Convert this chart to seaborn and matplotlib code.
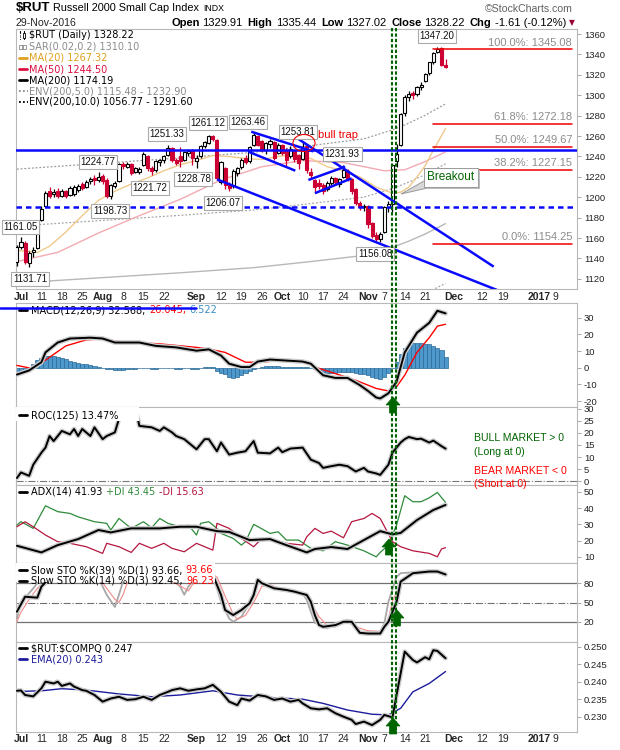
import numpy as np
import pandas as pd
import matplotlib
matplotlib.use("Agg")
import matplotlib.pyplot as plt
import seaborn as sns
from matplotlib.lines import Line2D
from matplotlib.patches import Rectangle, Polygon, Ellipse

# trading days from Jun 30 2016, exchange holidays removed
holidays = pd.to_datetime(["2016-07-04", "2016-09-05", "2016-11-24", "2016-12-26", "2017-01-02"])
days = pd.bdate_range("2016-06-30", "2017-01-13")
days = days[~days.isin(holidays)]

# daily candles Jun 30 .. Nov 29 (one value per trading day)
opens = [1137, 1151, 1155, 1136, 1146, 1150, 1178, 1191, 1206, 1203, 1206, 1201, 1206, 1202, 1203, 1207, 1213, 1210,
         1216, 1219, 1217, 1221, 1217, 1201, 1211, 1216, 1233, 1230, 1233, 1225, 1225, 1232, 1240, 1229, 1227, 1235,
         1237, 1241, 1248, 1237, 1240, 1237, 1243, 1246, 1236, 1240, 1250, 1253, 1260, 1256, 1215, 1229, 1212, 1211,
         1224, 1230, 1239, 1236, 1251, 1260, 1255, 1246, 1252, 1254, 1243, 1251, 1245, 1240, 1245, 1241, 1238, 1250,
         1225, 1217, 1214, 1212, 1208, 1214, 1219, 1213, 1220, 1226, 1218, 1208, 1194, 1190, 1191, 1175, 1163, 1159,
         1166, 1190, 1193, 1236, 1251, 1283, 1298, 1302, 1301, 1308, 1314, 1322, 1333, 1342, 1346, 1329.91]
highs = [1153, 1161.05, 1157, 1147, 1151, 1177, 1191, 1206, 1210, 1208, 1209, 1208, 1207, 1211, 1212, 1213, 1215, 1217,
         1220, 1222, 1224.77, 1223, 1219, 1213, 1216, 1234, 1235, 1235, 1234, 1230, 1230, 1244, 1241, 1231, 1237, 1238,
         1241, 1251.33, 1249, 1239, 1249, 1245, 1247, 1247, 1241, 1251, 1255, 1261.12, 1261, 1257, 1236, 1230, 1215,
         1228, 1230, 1239, 1241, 1250, 1263.46, 1261, 1256, 1254, 1257, 1255, 1253, 1252, 1248, 1250, 1246, 1242,
         1253.81, 1251, 1229, 1218, 1218, 1214, 1216, 1221, 1220, 1219, 1231.93, 1228, 1219, 1209, 1196, 1193, 1192,
         1176, 1166, 1166, 1191, 1196, 1233, 1252, 1283, 1300, 1304, 1304, 1309, 1313, 1322, 1333, 1342, 1347.2, 1347,
         1335.44]
lows = [1133, 1149, 1135, 1131.71, 1141, 1149, 1177, 1190, 1199, 1200, 1199, 1200, 1199, 1201, 1201, 1205, 1207, 1209,
        1213, 1212, 1215, 1213, 1199, 1198.73, 1209, 1215, 1228, 1229, 1222, 1224, 1223, 1231, 1226, 1221.72, 1225,
        1231, 1234, 1240, 1235, 1232, 1230, 1236, 1240, 1232, 1228.78, 1239, 1248, 1252, 1255, 1218, 1213, 1208,
        1206.07, 1209, 1221, 1228, 1233, 1234, 1250, 1250, 1244, 1242, 1248, 1237, 1242, 1241, 1231, 1239, 1235, 1228,
        1237, 1224, 1219, 1205, 1208, 1203, 1206, 1212, 1212, 1210, 1219, 1216, 1203, 1192, 1188, 1187, 1170, 1160,
        1157, 1156.08, 1165, 1186, 1186, 1230, 1250, 1280, 1294, 1296, 1299, 1305, 1313, 1320, 1331, 1341, 1329,
        1327.02]
closes = [1151, 1156, 1137, 1145, 1148, 1176, 1189, 1204, 1201, 1205, 1201, 1206, 1201, 1209, 1210, 1211, 1209, 1215,
          1218, 1217, 1220, 1216, 1201, 1212, 1214, 1233, 1231, 1233, 1224, 1229, 1228, 1242, 1229, 1226, 1236, 1237,
          1240, 1248, 1237, 1234, 1236, 1244, 1245, 1239, 1239, 1250, 1254, 1260, 1257, 1219, 1235, 1212, 1209, 1226,
          1229, 1237, 1235, 1249, 1261, 1251, 1246, 1253, 1255, 1239, 1251, 1243, 1237, 1247, 1238, 1234, 1248, 1227,
          1222, 1210, 1211, 1206, 1214, 1219, 1215, 1218, 1227, 1218, 1206, 1194, 1190, 1191, 1174, 1162, 1159, 1164,
          1190, 1193, 1232, 1242, 1282, 1298, 1301, 1300, 1308, 1310, 1321, 1333, 1341, 1345, 1330, 1328.22]

# moving averages (trading-day number, value)
ma20_day = [0, 3, 5, 8, 12, 16, 20, 24, 28, 32, 36, 40, 44, 48, 52, 56, 60, 64, 68, 72, 76, 80, 84, 88, 92, 94, 96, 98, 100, 102, 105]
ma20_val = [1148, 1147, 1146, 1152, 1166, 1182, 1197, 1206, 1213, 1219, 1226, 1232, 1236, 1241, 1240, 1238, 1237,
            1240, 1242, 1238, 1230, 1226, 1220, 1210, 1204, 1205, 1210, 1220, 1231, 1246, 1267.32]
ma50_day = [0, 10, 20, 30, 40, 50, 60, 70, 80, 90, 95, 100, 105]
ma50_val = [1137, 1146, 1165, 1182, 1198, 1217, 1230, 1236, 1234, 1226, 1227, 1235, 1244.5]
ma200_day = [0, 20, 40, 58, 72, 85, 92, 96, 100, 105]
ma200_val = [1116, 1121, 1126, 1131, 1137, 1143, 1151, 1157, 1164, 1174.19]

# MACD(12,26,9)
macd_day = [0, 3, 6, 7, 10, 13, 18, 21, 24, 27, 30, 34, 39, 44, 47, 50, 52, 55, 57, 59, 62, 66, 70, 72, 75, 78, 81,
            84, 86, 88, 89, 91, 93, 95, 98, 101, 103, 105]
macd_val = [-4.1, -1.6, 3.3, 9.2, 15.1, 17.5, 18, 17.5, 15.1, 15.1, 15.1, 13.1, 12.2, 10.2, 11, 7.3, 2.4, 0.4, 0.4,
            3.7, 4.9, 4.3, 3.7, 2.4, -4.5, -6.1, -6.1, -10.4, -13.9, -17.8, -18.4, -15.3, -8.4, 9.2, 21, 26.9, 34.1,
            32.57]
signal_day = [0, 4, 8, 12, 17, 21, 25, 35, 44, 47, 51, 56, 60, 64, 71, 73, 78, 83, 88, 91, 93, 95, 98, 101, 103, 105]
signal_val = [1.4, -0.6, 6.3, 13.1, 16.7, 17.3, 15.7, 14.3, 12.2, 11.2, 9.2, 3.3, 3.3, 4.3, 3.3, 0.4, -3.5, -7.5,
              -12.4, -13.9, -11.4, -4.5, 9.2, 18, 24.9, 26.05]
hist_val = [-4, -3, -1.5, 0.5, 2.5, 4.5, 6, 7, 7, 7, 6.5, 6, 5, 4, 3.5, 3, 2.5, 2, 1.5, 1, 0.5, 0, -0.5, -1, -1.5,
            -1.5, -1.2, -1, -0.5, -0.5, -0.3, 0, -0.3, -0.5, -0.5, -0.3, 0, 0, -0.3, -0.5, -0.5, -0.3, -0.3, -0.5,
            -0.5, 0, 0.3, 0.5, 0.3, -2, -3, -4, -5.5, -6, -5.5, -4.5, -3, -2, -1, 0, 0.5, 0.8, 1, 1, 0.8, 0.5, 0.5,
            0.5, 0.5, 0.3, 0.3, 0.2, 0, -0.5, -1.5, -2.5, -3, -3, -3, -2.8, -2.5, -2.5, -2.8, -3, -3.5, -4, -4.5,
            -5.5, -6, -6.5, -5.5, -3, 0, 3.5, 8, 12, 14.5, 15, 15, 15, 14.5, 14, 13, 12, 10.5, 6.52]

# ROC(125)
roc_day = [0, 1, 3, 4, 6, 7, 8, 9, 11, 13, 14, 15, 16, 18, 19, 21, 22, 24, 25, 26, 28, 29, 30, 33, 35, 36, 38, 39,
           41, 44, 46, 47, 49, 50, 52, 54, 56, 58, 59, 62, 64, 65, 67, 70, 72, 74, 75, 77, 79, 81, 83, 85, 86, 88,
           89, 91, 92, 94, 95, 96, 98, 99, 101, 102, 104, 105]
roc_val = [1.3, 3.6, 2.2, 6.8, 11.8, 13.9, 18.7, 16.6, 20.8, 19.4, 21.6, 18.7, 21.6, 18.7, 22.3, 17.4, 18.7, 20.2,
           25.8, 33, 33, 30.5, 22.9, 22.3, 20.8, 22.3, 20.2, 18.7, 17.4, 13.2, 17.4, 17.4, 12.4, 16, 11, 11.8, 12.4,
           16.6, 11.8, 11.5, 13.9, 12, 13.5, 13.9, 8.9, 7.5, 5.5, 6.2, 6.8, 6.2, 4, 5.5, 4, 3.2, 2.6, 6.8, 11.8, 16,
           17.4, 18.3, 17.4, 17.6, 16, 16.8, 14.5, 13.47]

# ADX(14) with +DI / -DI
adx_day = [0, 6, 10, 15, 20, 23, 28, 35, 40, 44, 49, 52, 57, 62, 66, 71, 73, 77, 81, 85, 89, 92, 94, 98, 102, 105]
adx_val = [16.8, 12.7, 17.2, 20.9, 26.5, 25, 27.5, 27.5, 28.5, 28.5, 25.8, 25.3, 20.3, 20.9, 17.2, 12.7, 14.8, 16,
           14.8, 20.3, 25.8, 23.8, 24.7, 32.6, 38.8, 41.93]
pdi_day = [0, 1, 4, 7, 10, 13, 15, 19, 22, 23, 25, 28, 31, 33, 35, 37, 40, 42, 44, 45, 47, 49, 50, 53, 55, 56, 58,
           62, 64, 66, 69, 72, 75, 78, 81, 85, 88, 89, 91, 93, 95, 97, 99, 101, 103, 105]
pdi_val = [29.5, 31.6, 27.5, 41.4, 37.8, 36.7, 34.6, 31.6, 30.6, 26.5, 33.6, 27.5, 31.6, 27.9, 33.6, 30.6, 28.5,
           29.5, 23.4, 30.6, 31.6, 27.5, 24.4, 21.3, 17.2, 19.3, 30, 24.4, 25.4, 20.3, 20.3, 15.2, 13.7, 19.3, 17.2,
           13.7, 10, 12.7, 17.2, 29.5, 47.6, 43.9, 43.9, 46.3, 49.6, 43.45]
mdi_day = [0, 2, 4, 7, 10, 13, 17, 21, 22, 25, 28, 30, 33, 36, 38, 41, 44, 46, 48, 49, 52, 55, 58, 60, 63, 66, 70,
           71, 73, 75, 77, 80, 82, 85, 87, 89, 92, 94, 97, 101, 103, 104, 105]
mdi_val = [28.5, 31.6, 28.5, 23.4, 19.3, 18.3, 16.2, 12.1, 18.3, 16.2, 12.7, 18.3, 15.2, 18.3, 15.2, 13.1, 18.3,
           16.2, 14.1, 30.6, 27.5, 21.3, 16.2, 21.3, 20.3, 18.3, 17.2, 22.3, 27.5, 24.4, 25.8, 21.7, 31.6, 33.6, 36.7,
           33.6, 19.3, 16.2, 13.7, 12.1, 10, 14.8, 15.63]

# slow stochastics
sto39_day = [0, 2, 5, 6, 8, 12, 18, 22, 26, 32, 38, 42, 46, 48, 50, 51, 53, 55, 57, 58, 59, 60, 63, 66, 68, 71, 72,
             73, 74, 75, 78, 80, 82, 84, 86, 89, 90, 91, 93, 94, 97, 101, 103, 105]
sto39_val = [35.6, 59, 57.5, 74.7, 88, 92, 95, 88, 93, 94, 93, 90, 95, 93, 61.7, 38.3, 30.5, 38.3, 48.7, 61.7, 85.2,
             80, 72.1, 69.5, 66.9, 61.7, 51.2, 30, 15, 12.2, 14.8, 20, 20, 2.8, 1.7, 1.7, 12.2, 20, 51, 82.5, 95.6,
             98.2, 98.2, 93.66]
sto14_day = [0, 1, 4, 5, 7, 12, 20, 21, 22, 24, 25, 26, 28, 33, 35, 39, 40, 41, 42, 44, 48, 50, 52, 53, 55, 57, 59,
             61, 64, 67, 70, 71, 73, 74, 76, 78, 81, 83, 84, 87, 89, 90, 91, 93, 94, 97, 101, 103, 105]
sto14_val = [25.3, 50, 72, 80, 92, 95, 88, 75, 62, 43, 62, 83, 92, 85, 92, 80, 75, 62, 75, 90, 93, 51, 25, 20, 28,
             49, 82, 75, 72, 67, 64, 54, 18, 17.5, 9.7, 17.5, 23, 9.7, 4.5, 4.5, 4.5, 17.5, 51, 90, 95.6, 97, 97,
             97.5, 92.45]
sto14d_day = [0, 1, 3, 5, 7, 12, 20, 22, 24, 25, 26, 27, 29, 34, 36, 40, 42, 43, 45, 49, 51, 53, 54, 56, 58, 60, 62,
              65, 68, 71, 72, 74, 76, 78, 80, 82, 84, 86, 89, 90, 91, 92, 94, 96, 100, 103, 105]
sto14d_val = [20, 35, 55, 72, 85, 94, 90, 72, 55, 50, 62, 80, 90, 86, 90, 76, 68, 78, 88, 90, 60, 32, 24, 30, 50,
              75, 78, 70, 66, 60, 50, 28, 14, 12, 18, 17, 10, 6, 5, 10, 25, 52, 80, 94, 97, 97, 96.23]

# $RUT:$COMPQ ratio and its EMA(20)
ratio_day = [0, 1, 2, 4, 6, 7, 9, 10, 11, 13, 14, 16, 17, 19, 21, 23, 25, 27, 29, 31, 33, 35, 37, 38, 40, 42, 44,
             46, 48, 50, 52, 54, 55, 57, 59, 61, 63, 65, 67, 69, 70, 72, 74, 76, 78, 80, 82, 83, 85, 87, 89, 90, 92,
             93, 95, 97, 98, 100, 101, 102, 103, 105]
ratio_val = [0.2374, 0.2375, 0.2362, 0.2358, 0.2381, 0.2400, 0.2395, 0.2400, 0.2388, 0.2395, 0.2386, 0.2376,
             0.2374, 0.2362, 0.2343, 0.2352, 0.2357, 0.2348, 0.2350, 0.2357, 0.2348, 0.2362, 0.2371, 0.2376,
             0.2381, 0.2374, 0.2378, 0.2381, 0.2391, 0.2371, 0.2343, 0.2333, 0.2352, 0.2346, 0.2362, 0.2358,
             0.2348, 0.2352, 0.2343, 0.2348, 0.2338, 0.2324, 0.2321, 0.2324, 0.2310, 0.2300, 0.2291, 0.2279,
             0.2286, 0.2276, 0.2291, 0.2305, 0.2298, 0.2362, 0.2486, 0.2462, 0.2455, 0.2470, 0.2464, 0.2490,
             0.2488, 0.2467]
ema_day = [0, 6, 11, 17, 25, 33, 40, 48, 54, 62, 70, 75, 81, 87, 91, 94, 97, 101, 105]
ema_val = [0.2372, 0.2374, 0.2380, 0.2376, 0.2365, 0.2357, 0.2362, 0.2374, 0.2362, 0.2355, 0.2350, 0.2338,
           0.2319, 0.2307, 0.2305, 0.2324, 0.2371, 0.2395, 0.2429]

# drawn annotations: fib levels, trend lines, price tags
fib_levels = [1345.08, 1272.18, 1249.67, 1227.15, 1154.25]
fib_text = ["100.0%: 1345.08", "61.8%: 1272.18", "50.0%: 1249.67", "38.2%: 1227.15", "0.0%: 1154.25"]
trendlines = [(57.4, 1264.3, 72.6, 1245.0), (56.7, 1244.7, 68.2, 1226.1), (49.0, 1217.6, 118.0, 1108.5),
              (69.0, 1257.0, 116.8, 1132.0), (71.4, 1217.0, 80.4, 1230.0), (73.0, 1204.0, 82.0, 1218.6)]
price_tags = [("1131.71", 3.2, 1119.9), ("1161.05", 0.9, 1170.9), ("1224.77", 19.9, 1234.6),
              ("1198.73", 22.8, 1186.6), ("1251.33", 36.8, 1262.0), ("1221.72", 32.6, 1209.1),
              ("1261.12", 46.8, 1272.8), ("1228.78", 43.2, 1217.9), ("1263.46", 56.6, 1273.8),
              ("1206.07", 50.5, 1194.4), ("1253.81", 68.9, 1264.0), ("1231.93", 79.7, 1242.5),
              ("1156.08", 87.8, 1144.4), ("1347.20", 102.9, 1358.0)]

tick_dates = ["2016-07-01", "2016-07-11", "2016-07-18", "2016-07-25", "2016-08-01", "2016-08-08", "2016-08-15",
              "2016-08-22", "2016-09-01", "2016-09-12", "2016-09-19", "2016-09-26", "2016-10-03", "2016-10-10",
              "2016-10-17", "2016-10-24", "2016-11-01", "2016-11-07", "2016-11-14", "2016-11-21", "2016-12-01",
              "2016-12-12", "2016-12-19", "2017-01-03", "2017-01-09"]
tick_text = ["Jul", "11", "18", "25", "Aug", "8", "15", "22", "Sep", "12", "19", "26", "Oct", "10", "17", "24",
             "Nov", "7", "14", "21", "Dec", "12", "19", "2017", "9"]
tick_pos = [days.get_loc(pd.Timestamp(d)) for d in tick_dates]

sns.set_style("white")
plt.rcParams["font.family"] = ["DejaVu Sans"]
plt.rcParams["text.parse_math"] = False

W, H = 620, 750
fig = plt.figure(figsize=(6.2, 7.5), dpi=100)
fig.patch.set_facecolor("white")
rend = fig.canvas.get_renderer()

XL = (-0.22, 137.2)


def px_axes(x0, y0, x1, y1):
    return fig.add_axes([x0 / W, 1 - y1 / H, (x1 - x0) / W, (y1 - y0) / H])


def style(ax, ylim, yticks, fmt="%g"):
    ax.set_xlim(*XL)
    ax.set_ylim(*ylim)
    ax.set_yticks(yticks)
    ax.set_yticklabels([fmt % v for v in yticks])
    ax.yaxis.tick_right()
    ax.tick_params(axis="y", length=3, width=0.6, color="#999999", labelsize=6.8, pad=2,
                   labelfontfamily="Liberation Sans", labelcolor="#222222")
    ax.tick_params(axis="x", length=0, labelbottom=False)
    for s in ax.spines.values():
        s.set_color("#b8b8b8")
        s.set_linewidth(0.8)
    ax.set_facecolor("white")


def line(ax, xs, ys, color, lw=1.0, halo=False, z=3):
    if halo:
        ax.plot(xs, ys, color="#cccccc", lw=lw + 2.0, zorder=z - 0.5, solid_capstyle="round")
    sns.lineplot(x=xs, y=ys, ax=ax, color=color, linewidth=lw, estimator=None, sort=False,
                 legend=False, zorder=z)
    ax.set_xlabel("")
    ax.set_ylabel("")


def date_labels(ax):
    ax.set_xticks(tick_pos)
    ax.set_xticklabels(tick_text)
    ax.tick_params(axis="x", length=0, labelbottom=True, labelsize=7.5, pad=2,
                   labelfontfamily="Liberation Sans")
    for t in ax.get_xticklabels():
        if not t.get_text().isdigit() or t.get_text() == "2017":
            t.set_fontweight("bold")


def fpx(x, y):
    return (x / W, 1 - y / H)


def fig_line(xs, ys, **kw):
    fig.add_artist(Line2D([x / W for x in xs], [1 - y / H for y in ys], transform=fig.transFigure, **kw))


def fig_poly(pts, **kw):
    fig.add_artist(Polygon([fpx(x, y) for x, y in pts], closed=True, transform=fig.transFigure, **kw))


def chain(x, y, parts, size=6.5, family="DejaVu Sans", gap=3.5):
    for s, color, weight in parts:
        t = fig.text(x / W, 1 - y / H, s, color=color, fontsize=size, fontweight=weight, family=family,
                     va="center", ha="left", zorder=30)
        x = t.get_window_extent(rend).x1 + gap
    return x


def legend_mark(y, color, kind="dash"):
    if kind == "dash":
        fig_line([19.5, 27], [y, y], color=color, lw=2.0, zorder=30)
    elif kind == "dot":
        fig_line([19.5, 27.5], [y, y], color=color, lw=1.3, ls=(0, (1, 1.2)), zorder=30)


# ---------------- price panel ----------------
ax = px_axes(16, 29.3, 577, 289.3)
style(ax, (1109.8, 1364.7), list(range(1120, 1361, 20)))
ma200 = np.array(ma200_val)
for k, col in [(1.05, "#a6a6a6"), (0.95, "#a6a6a6"), (1.10, "#9a9a9a"), (0.90, "#9a9a9a")]:
    ax.plot(ma200_day, ma200 * k, color=col, lw=0.9, ls=(0, (1.5, 1.5)), zorder=2)
line(ax, ma200_day, ma200_val, "#b8b8b8", lw=1.0, z=2)
line(ax, ma50_day, ma50_val, "#f3aab2", lw=1.0, z=2)
line(ax, ma20_day, ma20_val, "#efca8c", lw=1.0, z=2)

for i in range(len(closes)):
    o, h, l, c = opens[i], highs[i], lows[i], closes[i]
    up = c >= o
    col = "black" if up else "#cc0033"
    ax.vlines(i, l, h, color=col, lw=0.9, zorder=4)
    ax.add_patch(Rectangle((i - 0.38, min(o, c)), 0.76, max(abs(c - o), 0.6), facecolor="white" if up else col,
                           edgecolor=col, lw=0.8, zorder=5))

ax.axhline(1246.5, color="#0a0aff", lw=1.8, zorder=6)
ax.axhline(1190.0, color="#0a0aff", lw=1.8, ls=(0, (2.2, 1.6)), zorder=6)
for x0, y0, x1, y1 in trendlines:
    ax.plot([x0, x1], [y0, y1], color="#0a0aff", lw=1.8, zorder=6, solid_capstyle="butt")

for lvl, s in zip(fib_levels, fib_text):
    ax.plot([102, 136], [lvl, lvl], color="#ee0000", lw=1.1, zorder=6)
    ax.text(136, lvl + 6.4, s, ha="right", va="center", fontsize=8, color="#8c8c8c",
            family="Liberation Sans", zorder=7)

for s, xi, yv in price_tags:
    ax.text(xi, yv, s, ha="center", va="center", fontsize=7, family="Liberation Sans", color="#111111",
            zorder=8, bbox=dict(boxstyle="square,pad=0.18", fc="white", ec="#aaaaaa", lw=0.8))
date_labels(ax)

# ---------------- MACD ----------------
ax = px_axes(16, 303.3, 577, 407.3)
style(ax, (-23.7, 38.6), [-20, -10, 0, 10, 20, 30])
ax.bar(range(len(hist_val)), hist_val, width=1.0, color="#4f98cc", edgecolor="#2a6a98", lw=0.5, zorder=2)
line(ax, signal_day, signal_val, "#ff0000", lw=1.0, z=3)
line(ax, macd_day, macd_val, "black", lw=1.4, halo=True, z=4)

# ---------------- ROC ----------------
ax = px_axes(16, 407.3, 577, 485)
style(ax, (-1.6, 30.6), [0, 5, 10, 15, 20, 25, 30])
ax.axhline(0, color="#777777", lw=0.8, ls="-.")
line(ax, roc_day, roc_val, "black", lw=1.4, halo=True, z=4)
ax.add_patch(Rectangle((0, 0.82), 0.22, 0.18, transform=ax.transAxes, fc="white", ec="none", zorder=6))

# ---------------- ADX ----------------
ax = px_axes(16, 485, 577, 563.3)
style(ax, (6, 54.2), [10, 20, 30, 40, 50])
line(ax, pdi_day, pdi_val, "#2e8b3a", lw=0.9, z=3)
line(ax, mdi_day, mdi_val, "#b5173f", lw=0.9, z=3)
line(ax, adx_day, adx_val, "black", lw=1.4, halo=True, z=4)

# ---------------- Slow STO ----------------
ax = px_axes(16, 563.3, 577, 641.7)
style(ax, (-11, 111), [20, 50, 80])
ax.axhline(80, color="#707070", lw=0.9)
ax.axhline(20, color="#707070", lw=0.9)
ax.axhline(50, color="#707070", lw=0.8, ls="-.")
line(ax, sto14_day, sto14_val, "#a8a8a8", lw=1.3, z=3)
line(ax, sto14d_day, sto14d_val, "#f28a8a", lw=0.8, z=3)
line(ax, sto39_day, sto39_val, "black", lw=1.4, halo=True, z=4)
ax.add_patch(Rectangle((0, 0.765), 0.355, 0.235, transform=ax.transAxes, fc="white", ec="none", zorder=6))

# ---------------- $RUT:$COMPQ ----------------
ax = px_axes(16, 641.7, 577, 731.7)
style(ax, (0.22571, 0.25143), [0.230, 0.235, 0.240, 0.245, 0.250], fmt="%.3f")
line(ax, ema_day, ema_val, "#1c1c9c", lw=1.0, z=3)
line(ax, ratio_day, ratio_val, "black", lw=1.4, halo=True, z=4)
date_labels(ax)

# ---------------- figure-level marks ----------------
for xv in (392.3, 396.3):
    fig_line([xv, xv], [28, 734], color="#006400", lw=1.5, ls=(0, (1.6, 1.0)), zorder=15)


def up_arrow(cx, ybot):
    fig_poly([(cx - 3.5, ybot), (cx + 3.5, ybot), (cx + 3.5, ybot - 8), (cx + 7, ybot - 8), (cx, ybot - 16),
              (cx - 7, ybot - 8), (cx - 3.5, ybot - 8)], fc="#006400", ec="#006400", lw=0.5, zorder=20)


up_arrow(393, 413)
up_arrow(389, 555)
up_arrow(397, 626)
up_arrow(393, 734)

# bull trap circle + note
fig.add_artist(Ellipse(fpx(304, 143), 22 / W, 17 / H, transform=fig.transFigure, fill=False, ec="#ee0000",
                       lw=0.8, zorder=16))
fig.text(318 / W, 1 - 135 / H, "bull trap", color="#ee0000", fontsize=8, family="Liberation Sans",
         va="center", ha="left")

# breakout callout
fig_poly([(401, 194), (424, 181), (432, 187)], fc="#d8d8d8", ec="#9a9a9a", lw=0.7, zorder=16)
fig.add_artist(Rectangle(fpx(425.5, 189), 54 / W, 19 / H, transform=fig.transFigure, fc="#bdbdbd",
                         ec="none", zorder=16))
fig.add_artist(Rectangle(fpx(423.5, 187), 54 / W, 19 / H, transform=fig.transFigure, fc="white",
                         ec="#9a9a9a", lw=0.7, zorder=17))
fig.text(426.5 / W, 1 - 177.5 / H, "Breakout", color="#006400", fontsize=8.5, family="Liberation Sans",
         va="center", ha="left", zorder=18)

# ROC notes
fig.text(474 / W, 1 - 437.7 / H, "BULL MARKET > 0", color="#006400", fontsize=7.6, family="Liberation Sans",
         va="center")
fig.text(474 / W, 1 - 451.7 / H, "(Long at 0)", color="#006400", fontsize=7.6, family="Liberation Sans",
         va="center")
fig.text(474 / W, 1 - 471 / H, "BEAR MARKET < 0", color="#ff0000", fontsize=7.6, family="Liberation Sans",
         va="center")
fig.text(474 / W, 1 - 484.3 / H, "(Short at 0)", color="#ff0000", fontsize=7.6, family="Liberation Sans",
         va="center", zorder=30)

# header
x = chain(16, 8.3, [("$RUT", "black", "bold")], size=9.5, family="Liberation Sans", gap=3)
x = chain(x, 8.3, [("Russell 2000 Small Cap Index", "black", "normal")], size=7.8, family="Liberation Sans")
chain(x, 8.8, [("INDX", "black", "normal")], size=6.3, family="Liberation Sans")
fig.text(16 / W, 1 - 22.7 / H, "29-Nov-2016", fontsize=7.6, family="Liberation Sans", va="center")
fig.text(573 / W, 1 - 9.3 / H, "\u00a9StockCharts.com", fontsize=7.6, family="Liberation Sans", va="center",
         ha="right", color="#606060")
x = 171
for lab, val in [("Open", "1329.91"), ("High", "1335.44"), ("Low", "1327.02"), ("Close", "1328.22"),
                 ("Chg", "-1.61 (-0.12%)")]:
    x = chain(x, 22.7, [(lab, "black", "bold")], size=8, family="Liberation Sans", gap=3)
    x = chain(x, 22.7, [(val, "black", "normal")], size=8, family="Liberation Sans", gap=5)
chain(x - 2, 22.7, [("\u25bc", "#990033", "normal")], size=5.5)

# price panel legend
fig_line([20, 20], [31, 39], color="black", lw=0.8, zorder=30)
fig.add_artist(Rectangle(fpx(19, 37.5), 2 / W, 4 / H, transform=fig.transFigure, fc="black", zorder=31))
fig_line([24, 24], [31, 39], color="black", lw=0.8, zorder=30)
fig.add_artist(Rectangle(fpx(23, 38), 2 / W, 5 / H, transform=fig.transFigure, fc="white", ec="black",
                         lw=0.6, zorder=31))
chain(29.5, 35, [("$RUT (Daily) 1328.22", "black", "normal")], size=7)
fig.add_artist(Line2D([20.5 / W, 24.5 / W], [1 - 46.5 / H] * 2, transform=fig.transFigure, ls="none",
                      marker="s", ms=2.2, mfc="none", mec="#8c8c8c", mew=0.6, zorder=30))
chain(29.5, 46.5, [("SAR(0.02,0.2) 1310.10", "#8c8c8c", "normal")], size=7)
legend_mark(57.7, "#e0a020")
chain(29.5, 57.7, [("MA(20) 1267.32", "#e0a020", "normal")], size=7)
legend_mark(69, "#dc1040")
chain(29.5, 69, [("MA(50) 1244.50", "#dc1040", "normal")], size=7)
legend_mark(80.2, "black")
chain(29.5, 80.2, [("MA(200) 1174.19", "black", "normal")], size=7)
legend_mark(91.3, "#8c8c8c", "dot")
chain(29.5, 91.3, [("ENV(200,5.0) 1115.48 - 1232.90", "#8c8c8c", "normal")], size=7)
legend_mark(102, "black", "dot")
chain(29.5, 102, [("ENV(200,10.0) 1056.77 - 1291.60", "black", "normal")], size=7)

# indicator legends
legend_mark(310.3, "black")
chain(31, 310.3, [("MACD(12,26,9) 32.568,", "black", "normal"), ("26.045,", "#ff0000", "normal"),
                  ("6.522", "#3a8fc8", "normal")], size=7)
fig_line([0, 196], [308, 308], color="#0a0aff", lw=1.8, zorder=35)
legend_mark(415, "black")
chain(31, 415, [("ROC(125) 13.47%", "black", "normal")], size=7)
legend_mark(491.7, "black")
chain(31, 491.7, [("ADX(14) 41.93", "black", "normal"), ("+DI 43.45", "#2e8b3a", "normal"),
                  ("-DI 15.63", "#b5173f", "normal")], size=7)
legend_mark(570.3, "black")
chain(31, 570.3, [("Slow STO %K(39) %D(1) 93.66,", "black", "normal"), ("93.66", "#ff0000", "normal")], size=7)
legend_mark(580.5, "black")
chain(31, 580.5, [("Slow STO %K(14) %D(3) 92.45,", "black", "normal"), ("96.23", "#ff0000", "normal")], size=7)
legend_mark(648.3, "black")
chain(31, 648.3, [("$RUT:$COMPQ 0.247", "black", "normal")], size=7)
legend_mark(659.3, "#1c1c9c")
chain(31, 659.3, [("EMA(20) 0.243", "#1c1c9c", "normal")], size=7)

fig.savefig("out.png", dpi=100, facecolor="white")
